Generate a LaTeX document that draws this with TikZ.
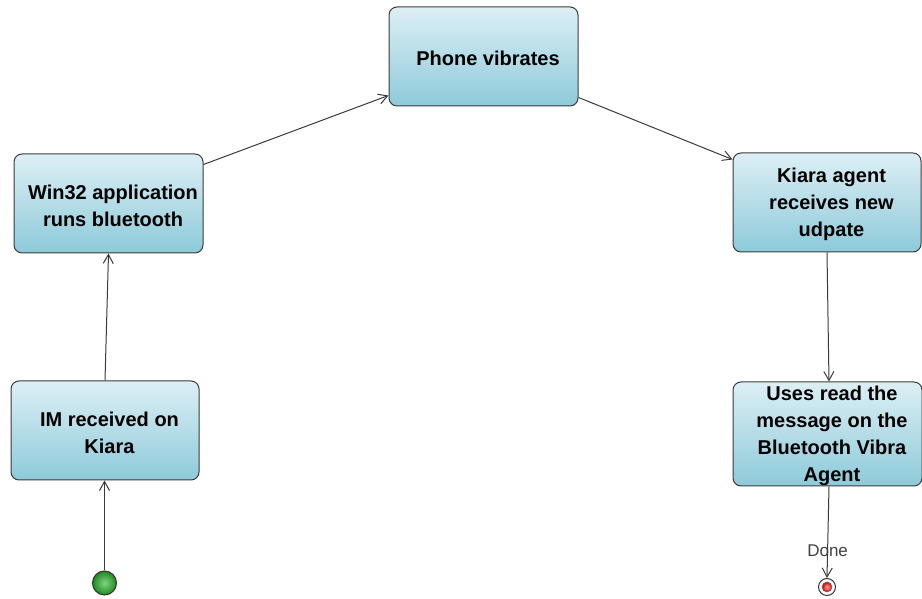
\documentclass[tikz,border=0pt]{standalone}
\usepackage{fontspec}
\setmainfont{Liberation Sans}
\usetikzlibrary{arrows.meta}
\definecolor{boxtop}{HTML}{DDEFF5}
\definecolor{boxbot}{HTML}{8DCAD9}
\definecolor{edgegray}{HTML}{3A3A3A}
\definecolor{startgreen}{HTML}{1F8A1F}
\definecolor{startlight}{HTML}{7FD67F}
\begin{document}
\begin{tikzpicture}[x=1pt,y=1pt,
  statebox/.style={draw=edgegray, line width=1pt, rounded corners=8pt,
    top color=boxtop, bottom color=boxbot,
    minimum width=189pt, minimum height=99pt, inner sep=0pt},
  statetext/.style={align=center, xshift=4.5pt, yshift=-2pt, inner sep=0pt,
    font=\bfseries\fontsize{20}{27}\selectfont},
  flow/.style={draw=edgegray, line width=1pt,
    -{Straight Barb[length=9pt,width=10pt,line width=1pt]}},
  initial/.style={circle, draw=black!80, line width=1pt, minimum size=24pt,
    inner sep=0pt, shading=radial, inner color=startlight, outer color=startgreen},
  finalouter/.style={circle, draw=black!80, line width=1pt, fill=white,
    minimum size=17pt, inner sep=0pt},
  finalinner/.style={circle, draw=black!60, line width=0.6pt, minimum size=10pt,
    inner sep=0pt, shading=radial, inner color=red!35, outer color=red!85!black},
  flowlabel/.style={font=\fontsize{17}{20}\selectfont, text=black!75}]
  \useasboundingbox (0,0) rectangle (922,599);

  % activity states
  \node[statebox] (phone) at (483.5,542.5) {};
  \node[statetext] at (phone.center) {Phone vibrates};
  \node[statebox] (win) at (108.5,395.5) {};
  \node[statetext] at (win.center) {Win32 application\\runs bluetooth};
  \node[statebox, minimum width=188pt] (im) at (105,168.5) {};
  \node[statetext] at (im.center) {IM received on\\Kiara};
  \node[statebox, minimum width=188pt] (kiara) at (827,396.5) {};
  \node[statetext] at (kiara.center) {Kiara agent\\receives new\\udpate};
  \node[statebox, minimum height=104pt] (uses) at (827.5,165) {};
  \node[statetext] at (uses.center) {Uses read the\\message on the\\Bluetooth Vibra\\Agent};

  % initial and final pseudo-states
  \node[initial] (start) at (104.5,16) {};
  \node[finalouter] (done) at (827,12) {};
  \node[finalinner] at (done.center) {};

  % transitions
  \draw[flow] (start) -- (im.south -| start);
  \draw[flow] (im.north) -- (win.south);
  \draw[flow] ([yshift=-11pt]win.north east) -- ([yshift=11pt]phone.south west);
  \draw[flow] ([yshift=9pt]phone.south east) -- ([yshift=-7pt]kiara.north west);
  \draw[flow] (kiara.south) -- ([xshift=1.5pt]uses.north);
  \draw[flow] ([xshift=1.5pt]uses.south) -- (done.north)
    node[flowlabel, pos=0.7] (donelabel) {Done};
\end{tikzpicture}
\end{document}
